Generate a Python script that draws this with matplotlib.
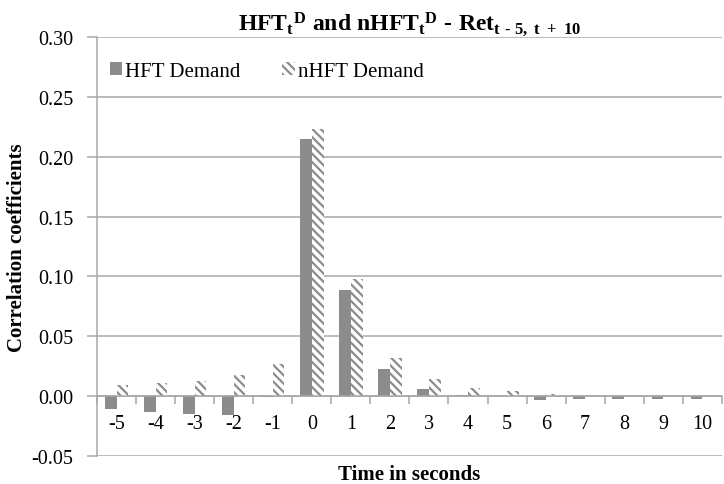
import numpy as np
import matplotlib.pyplot as plt

plt.rcParams['font.family'] = 'serif'
plt.rcParams['font.serif'] = ['Liberation Serif', 'DejaVu Serif']
plt.rcParams['mathtext.fontset'] = 'custom'
plt.rcParams['mathtext.rm'] = 'Liberation Serif:bold'
plt.rcParams['mathtext.bf'] = 'Liberation Serif:bold'
plt.rcParams['mathtext.it'] = 'Liberation Serif:bold'
plt.rcParams['hatch.linewidth'] = 1.6

# data
lags = [-5, -4, -3, -2, -1, 0, 1, 2, 3, 4, 5, 6, 7, 8, 9, 10]
hft_demand = [-0.011, -0.013, -0.015, -0.016, -0.001, 0.215, 0.089, 0.023,
              0.006, 0.001, 0.000, -0.003, -0.002, -0.002, -0.002, -0.002]
nhft_demand = [0.009, 0.011, 0.013, 0.018, 0.027, 0.223, 0.098, 0.032,
               0.014, 0.007, 0.004, 0.002, 0.0005, 0.0005, 0.0005, 0.0005]
yticks = [-0.05, 0.0, 0.05, 0.10, 0.15, 0.20, 0.25, 0.30]

grid_col = '#a8a8a8'
bar_col = '#8c8c8c'

fig = plt.figure(figsize=(7.24, 4.85), dpi=100)
ax = fig.add_axes([0.134, 0.0577, 0.863, 0.864])

x = np.arange(len(lags))
w = 0.30
ax.bar(x - w / 2, hft_demand, w, color=bar_col, linewidth=0, label='HFT Demand', zorder=3)
ax.bar(x + w / 2, nhft_demand, w, color='white', edgecolor=bar_col, linewidth=0,
       hatch='\\\\\\\\', label='nHFT Demand', zorder=3)

ax.set_xlim(-0.5, len(lags) - 0.5)
ax.set_ylim(-0.05, 0.30)
ax.set_yticks(yticks)
ax.set_yticklabels([f'{v:.2f}' for v in yticks], fontsize=14.5)
ax.yaxis.grid(True, color=grid_col, linewidth=1.1, zorder=0)
ax.set_axisbelow(True)

for s in ['top', 'right']:
    ax.spines[s].set_visible(False)
ax.spines['left'].set_color(grid_col)
ax.spines['left'].set_linewidth(1.1)
ax.spines['bottom'].set_position(('data', 0))
ax.spines['bottom'].set_color(grid_col)
ax.spines['bottom'].set_linewidth(1.1)
ax.spines['bottom'].set_zorder(4)

ax.set_xticks(x)
ax.set_xticklabels([str(l) for l in lags], fontsize=14.5)
ax.set_xticks(np.arange(-0.5, len(lags), 1.0), minor=True)
ax.tick_params(axis='x', which='major', length=0, pad=13)
ax.tick_params(axis='x', which='minor', length=6, color=grid_col, width=1.1, direction='out')
ax.tick_params(axis='y', length=7, color=grid_col, width=1.1, pad=10)

ax.set_xlabel('Time in seconds', fontsize=15, fontweight='bold')
ax.xaxis.set_label_coords(0.5, -0.019)
ax.set_ylabel('Correlation coefficients', fontsize=15, fontweight='bold', labelpad=3)

ax.set_title('$\\mathrm{HFT_t{}^D\\ and\\ nHFT_t{}^D\\ \u2010\\ Ret_{t\\ \u2010\\ 5,\\ t\\ +\\ 10}}$',
             fontsize=17, pad=5)

ax.legend(loc='upper left', bbox_to_anchor=(0.0, 0.97), ncol=2, frameon=False,
          fontsize=15, handlelength=0.6, handleheight=0.6, handletextpad=0.15,
          columnspacing=2.0, borderaxespad=0.2)

fig.savefig('out.png', dpi=100)
